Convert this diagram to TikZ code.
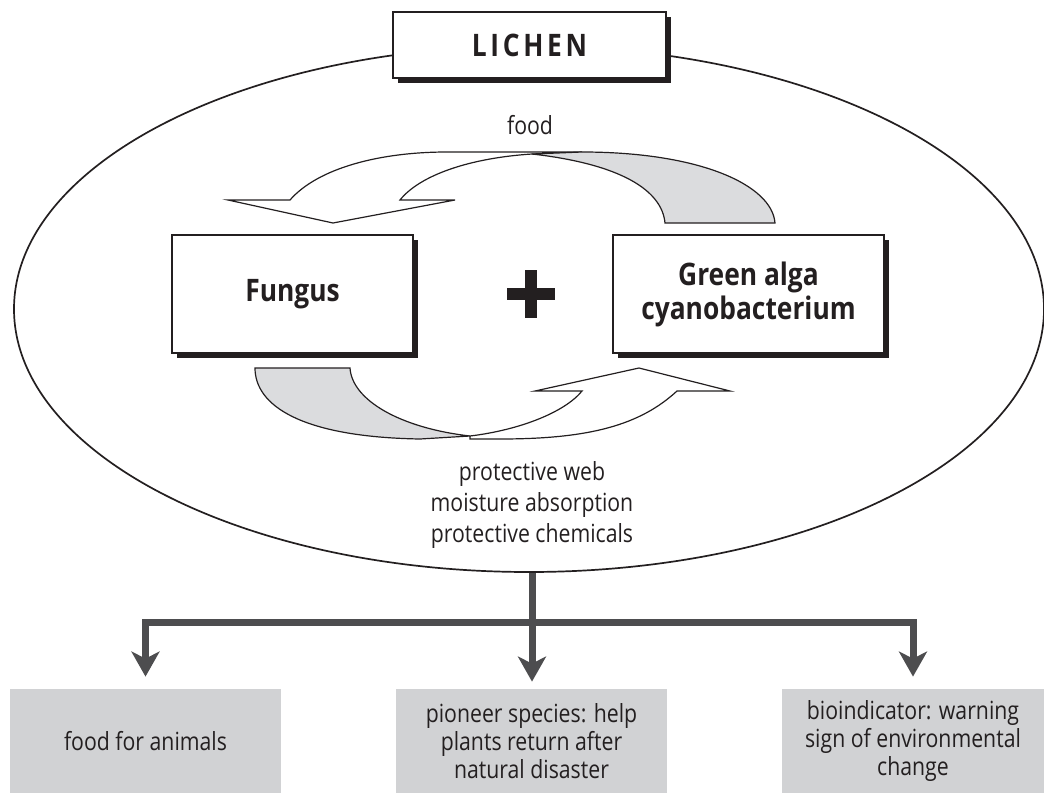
\documentclass[tikz,border=0pt]{standalone}
\usepackage{fontspec}
\setmainfont{Open Sans}[FakeStretch=0.85]
\newfontfamily\titlefont{Open Sans}[FakeStretch=0.85,LetterSpace=12]
\usepackage{tikz}
\usetikzlibrary{positioning,arrows.meta,shapes.geometric,shadows}
\definecolor{LichenInk}{RGB}{35,31,32}
\definecolor{LichenFold}{RGB}{219,220,222}
\definecolor{LichenPanel}{RGB}{209,210,212}
\definecolor{LichenTrunk}{RGB}{77,77,79}

\begin{document}
\begin{tikzpicture}[x=0.5pt,y=-0.5pt,
  partner/.style={draw=LichenInk,fill=white,line width=1pt,text=LichenInk,align=center,
    font=\bfseries\fontsize{15.5}{17}\selectfont,minimum height=59pt,
    drop shadow={shadow xshift=2.5pt,shadow yshift=-2.5pt,fill=LichenInk,opacity=1}},
  ribbon/.style={draw=LichenInk,line width=0.6pt,line join=miter},
  gain/.style={text=LichenInk,align=center,font=\fontsize{12.5}{15.5}\selectfont},
  usepanel/.style={fill=LichenPanel,text=LichenInk,align=center,minimum height=52pt,
    font=\fontsize{12.5}{14}\selectfont},
  trunk/.style={draw=LichenTrunk,line width=3.5pt},
  branch/.style={trunk,-{Stealth[length=12.5pt,width=14pt,inset=3.5pt]}}]
  \useasboundingbox (0,0) rectangle (1044,803);

  \node[draw=LichenInk,line width=0.85pt,ellipse,minimum width=515pt,minimum height=263pt,inner sep=0pt] (ring) at (529,309) {};
  \node[partner,font=\titlefont\bfseries\fontsize{15.5}{17}\selectfont,minimum width=136.5pt,minimum height=33pt] (lichen) at (529.5,45) {LICHEN};

  % food: alga -> fungus
  \draw[ribbon,fill=white] (582,152) -- (447,152) .. controls (380,152) and (318,168) .. (290,200)
    -- (228,200) -- (333,223) -- (455,200) -- (400,200) .. controls (420,175) and (470,158) .. (532,154) -- cycle;
  \draw[ribbon,fill=LichenFold] (532,154) -- (582,152) .. controls (700,152) and (772,185) .. (775,223)
    -- (665,223) .. controls (662,190) and (620,164) .. (532,154) -- cycle;
  \node[gain] (food) at (530,125) {food};

  \node[partner,minimum width=120.5pt] (fungus) at (292.5,294) {Fungus};
  \node[partner,minimum width=135.5pt] (alga) at (748.5,294) {Green alga\\cyanobacterium};
  \draw[LichenInk,line width=6pt] (507,294) -- (555,294) (531,270) -- (531,318);

  % protection: fungus -> alga
  \draw[ribbon,fill=LichenFold] (255,368) -- (350,368) .. controls (352,400) and (400,428) .. (470,436)
    -- (420,439) .. controls (300,437) and (255,405) .. (255,368) -- cycle;
  \draw[ribbon,fill=white] (470,436) .. controls (520,430) and (565,412) .. (582,391)
    -- (535,391) -- (639,368) -- (730,391) -- (677,391) .. controls (640,425) and (590,439) .. (500,439) -- (470,439) -- cycle;
  \node[gain] (gains) at (532,505) {protective web\\moisture absorption\\protective chemicals};

  \node[usepanel,minimum width=135.5pt] (animals) at (145.5,741) {food for animals};
  \node[usepanel,minimum width=135.5pt] (pioneer) at (531.5,741) {pioneer species: help\\plants return after\\natural disaster};
  \node[usepanel,minimum width=131pt] (indicator) at (913,741) {bioindicator: warning\\sign of environmental\\change};

  \coordinate (hub) at (532,622);
  \draw[trunk] (ring.south -| hub) -- (hub);
  \draw[branch,shorten >=6pt] (hub) -| (animals);
  \draw[branch,shorten >=3.5pt] (hub) -- (hub |- pioneer.north);
  \draw[branch,shorten >=6pt] (hub) -| (indicator);
\end{tikzpicture}
\end{document}
